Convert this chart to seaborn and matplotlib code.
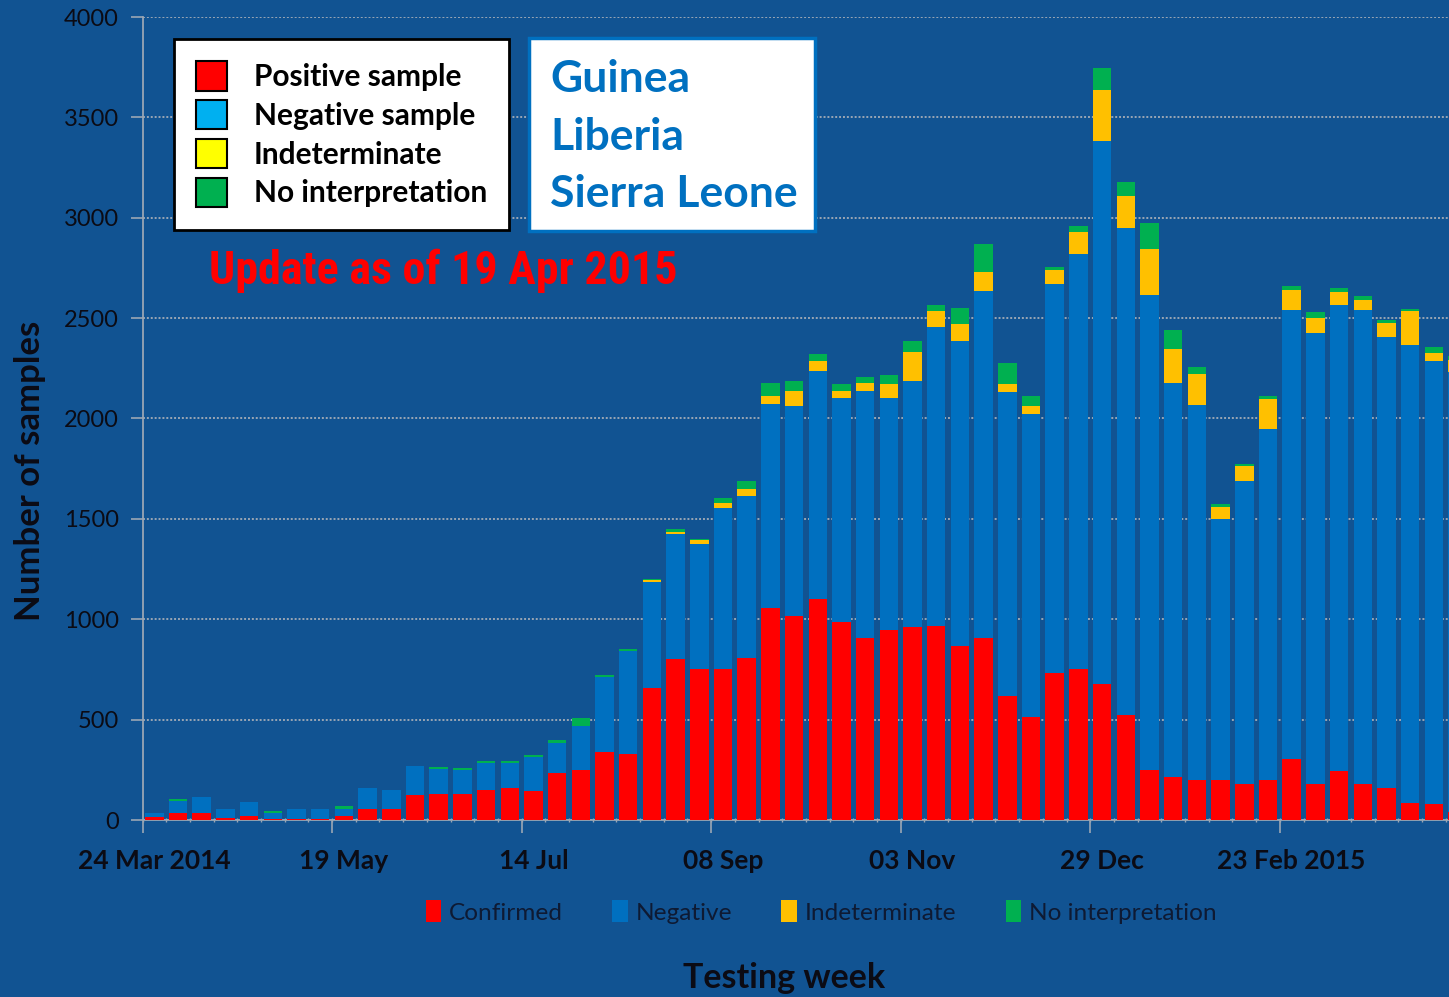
import numpy as np
import pandas as pd
import matplotlib
matplotlib.use("Agg")
import matplotlib.pyplot as plt
from matplotlib.patches import Patch, Rectangle
from matplotlib import font_manager
import seaborn as sns

# ---------------- data ----------------
week_start = "2014-03-24"
confirmed = [17, 37, 37, 12, 20, 3, 7, 7, 20, 53,
             53, 123, 128, 130, 151, 157, 144, 235, 248, 338,
             331, 656, 803, 752, 752, 805, 1058, 1018, 1100, 987,
             907, 947, 963, 968, 865, 907, 619, 513, 733, 751,
             678, 521, 249, 214, 201, 201, 177, 201, 304, 177,
             243, 177, 160, 85, 80, 40]
negative = [16, 60, 80, 41, 68, 30, 46, 46, 37, 105,
            94, 145, 125, 120, 134, 128, 169, 149, 222, 374,
            512, 528, 621, 621, 802, 808, 1013, 1042, 1138, 1113,
            1230, 1153, 1222, 1489, 1521, 1730, 1513, 1508, 1938, 2069,
            2702, 2428, 2364, 1963, 1867, 1296, 1513, 1748, 2238, 2248,
            2323, 2365, 2245, 2280, 2207, 2190]
indeterminate = [0, 0, 0, 0, 0, 0, 0, 0, 0, 0,
                 0, 0, 0, 0, 0, 0, 0, 0, 0, 0,
                 0, 10, 10, 20, 25, 35, 40, 77, 50, 37,
                 40, 72, 148, 77, 87, 93, 40, 39, 67, 111,
                 254, 161, 233, 169, 154, 61, 74, 146, 98, 77,
                 66, 50, 70, 171, 41, 60]
no_interp = [0, 10, 0, 0, 0, 10, 0, 0, 11, 0,
             0, 0, 10, 7, 10, 10, 10, 15, 37, 10,
             8, 5, 17, 8, 24, 40, 66, 48, 34, 35,
             29, 47, 53, 29, 77, 137, 105, 53, 15, 29,
             111, 69, 127, 93, 34, 16, 8, 18, 21, 27,
             16, 16, 15, 9, 26, 20]
tick_positions = [0, 8, 16, 24, 32, 40, 48]
tick_labels = ["24 Mar 2014", "19 May", "14 Jul", "08 Sep", "03 Nov", "29 Dec", "23 Feb 2015"]
series_names = ["Confirmed", "Negative", "Indeterminate", "No interpretation"]
series_colors = ["#FF0000", "#0070C0", "#FFC000", "#00B050"]
box_labels = ["Positive sample", "Negative sample", "Indeterminate", "No interpretation"]
box_colors = ["#FF0000", "#00B0F0", "#FFFF00", "#00B050"]
countries = ["Guinea", "Liberia", "Sierra Leone"]
update_text = "Update as of 19 Apr 2015"
y_label = "Number of samples"
x_label = "Testing week"

# ---------------- frame ----------------
df = pd.DataFrame({
    "week": np.arange(len(confirmed)),
    "confirmed": confirmed,
    "negative": negative,
    "indeterminate": indeterminate,
    "no_interp": no_interp,
})
df["top_neg"] = df["confirmed"] + df["negative"]
df["top_ind"] = df["top_neg"] + df["indeterminate"]
df["top_all"] = df["top_ind"] + df["no_interp"]

BG = "#115392"
GRID = "#9AA6B4"
TXT = "#0B0B14"
W, H = 1449, 997

sns.set_style("ticks")
plt.rcParams["font.family"] = ["Lato", "DejaVu Sans"]

fig = plt.figure(figsize=(W / 100, H / 100), dpi=100)
fig.patch.set_facecolor(BG)
ax = fig.add_axes([142.5 / W, 1 - 820 / H, (W - 142.5) / W, (820 - 17) / H])
ax.set_facecolor(BG)

layers = [("top_all", series_colors[3], series_names[3]),
          ("top_ind", series_colors[2], series_names[2]),
          ("top_neg", series_colors[1], series_names[1]),
          ("confirmed", series_colors[0], series_names[0])]
for col, colr, lab in layers:
    sns.barplot(data=df, x="week", y=col, color=colr, width=0.78, saturation=1,
                errorbar=None, label=lab, ax=ax, linewidth=0, zorder=3)
if ax.get_legend() is not None:
    ax.get_legend().remove()

ax.set_xlim(-0.5, 54.64)
ax.set_ylim(0, 4000)
ax.set_yticks(np.arange(0, 4001, 500))
ax.yaxis.grid(True, color=GRID, linestyle=(0, (1, 1)), linewidth=1.4, zorder=0)
ax.set_axisbelow(True)

for s in ["top", "right"]:
    ax.spines[s].set_visible(False)
for s in ["left", "bottom"]:
    ax.spines[s].set_color(GRID)
    ax.spines[s].set_linewidth(1.3)
ax.spines["left"].set_linestyle((0, (1, 1)))

ax.tick_params(axis="y", length=9, width=1.2, color=GRID, pad=8,
               labelsize=17, labelcolor=TXT)
ax.set_xticks(tick_positions, tick_labels)
ax.tick_params(axis="x", which="major", length=0, pad=21, labelsize=19, labelcolor=TXT)
for t in ax.get_xticklabels():
    t.set_fontweight("bold")
ax.set_xticks(np.arange(-0.5, 55, 1), minor=True)
ax.tick_params(axis="x", which="minor", length=3, width=1, color=GRID, direction="inout")

sec = ax.secondary_xaxis("bottom")
sec.set_xticks(np.arange(-0.5, 55, 8))
sec.tick_params(length=9, width=1.2, color=GRID, labelbottom=False)
sec.spines["bottom"].set_visible(False)

ax.set_xlabel("")
ax.set_ylabel(y_label, fontsize=25, fontweight="bold", color=TXT)
ax.yaxis.set_label_coords(-0.074, 0.435)

# bottom legend (chart legend)
handles, labels = ax.get_legend_handles_labels()
hmap = dict(zip(labels, handles))
fig.legend([hmap[n] for n in series_names], series_names,
           loc="center", bbox_to_anchor=(821 / W, 1 - 912 / H), ncol=4,
           frameon=False, fontsize=17.6, labelcolor="#0E1A33",
           handlelength=0.65, handleheight=1.0, handletextpad=0.3,
           columnspacing=2.02)

fig.text(784 / W, 1 - 978 / H, x_label, ha="center", va="center",
         fontsize=24.5, fontweight="bold", color=TXT)

# key box (upper left)
key_handles = [Patch(facecolor=c, edgecolor="black", linewidth=1.5) for c in box_colors]
leg1 = ax.legend(key_handles, box_labels, loc="upper left",
                 bbox_to_anchor=(174 / W, 1 - 39 / H), bbox_transform=fig.transFigure,
                 frameon=True, fancybox=False, edgecolor="black", facecolor="white",
                 framealpha=1, prop=dict(family=["Lato", "DejaVu Sans"], weight="bold", size=21.5),
                 labelcolor="black", handlelength=1.02, handleheight=1.13,
                 handletextpad=0.9, labelspacing=0.3, borderpad=0.75, borderaxespad=0)
leg1.get_frame().set_linewidth(2)
leg1.set_zorder(10)

# countries box
fig.add_artist(Rectangle((529 / W, 1 - 231 / H), (815 - 529) / W, (231 - 38) / H,
                         transform=fig.transFigure, facecolor="white",
                         edgecolor="#0070C0", linewidth=2.5, zorder=10))
for name, yy in zip(countries, [79, 137, 194]):
    fig.text(550 / W, 1 - yy / H, name, ha="left", va="center", fontsize=32,
             fontweight="bold", color="#0070C0", zorder=11)

# update note in a condensed face, sized to its width in the reference
names = {f.name for f in font_manager.fontManager.ttflist}
cand = [n for n in ["Roboto Condensed", "Liberation Sans Narrow", "DejaVu Sans Condensed",
                    "Open Sans Condensed", "Noto Sans Display"] if n in names]
fam = cand + ["DejaVu Sans"]
upd = fig.text(443 / W, 1 - 271 / H, update_text, ha="center", va="center",
               fontsize=34, fontweight="bold", color="#FF0000",
               family=fam, fontstretch="condensed", zorder=11)
fig.canvas.draw()
wpx = upd.get_window_extent().width
upd.set_fontsize(34 * 468 / wpx)

fig.savefig("out.png", dpi=100, facecolor=BG)
